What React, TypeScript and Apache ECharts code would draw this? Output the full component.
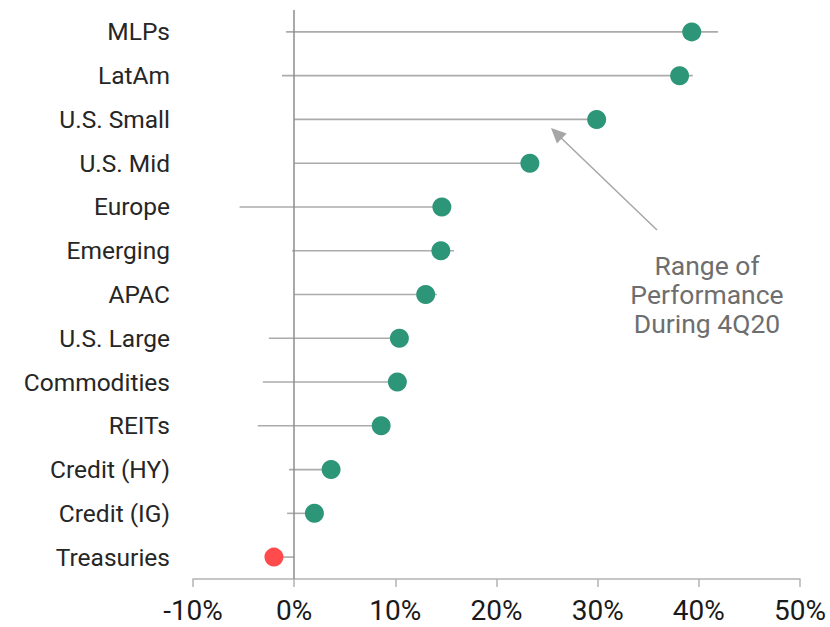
import React, { useEffect, useRef } from "react";
import * as echarts from "echarts";

const categories = [
  "MLPs",
  "LatAm",
  "U.S. Small",
  "U.S. Mid",
  "Europe",
  "Emerging",
  "APAC",
  "U.S. Large",
  "Commodities",
  "REITs",
  "Credit (HY)",
  "Credit (IG)",
  "Treasuries",
];
const lows = [-0.8, -1.2, 0.0, 0.0, -5.4, -0.2, 0.0, -2.5, -3.1, -3.6, -0.5, -0.7, -2.0];
const highs = [41.9, 39.4, 29.9, 23.3, 14.6, 15.8, 14.1, 10.4, 10.2, 8.6, 3.65, 2.0, 0.0];
const finals = [39.3, 38.1, 29.9, 23.3, 14.6, 14.5, 13.0, 10.4, 10.2, 8.6, 3.65, 2.0, -2.0];
const xTicks = { min: -10, max: 50, interval: 10 };
const annotation = "Range of\nPerformance\nDuring 4Q20";

const GREEN = "#2E9678";
const RED = "#FF4B4B";
const FONT = "Roboto";

export default function App() {
  const ref = useRef<HTMLDivElement>(null);
  useEffect(() => {
    if (!ref.current) return;
    const chart = echarts.init(ref.current, undefined, { renderer: "svg" });
    const rangeData = categories.map((c, i) => [i, lows[i], highs[i]]);
    const dotData = categories.map((c, i) => ({
      value: [finals[i], c],
      itemStyle: { color: finals[i] < 0 ? RED : GREEN, opacity: 1 },
    }));
    chart.setOption({
      animation: false,
      backgroundColor: "#ffffff",
      grid: { left: 193, right: 30, top: 10, bottom: 48 },
      xAxis: {
        type: "value",
        min: xTicks.min,
        max: xTicks.max,
        interval: xTicks.interval,
        splitLine: { show: false },
        axisLine: { show: true, onZero: false, lineStyle: { color: "#b3b3b3", width: 1.5 } },
        axisTick: { show: true, length: 8, lineStyle: { color: "#b3b3b3", width: 1.5 } },
        axisLabel: {
          formatter: "{value}%",
          fontFamily: FONT,
          fontSize: 28,
          color: "#1a1a1a",
          margin: 17,
        },
      },
      yAxis: {
        type: "category",
        inverse: true,
        data: categories,
        axisLine: { show: false },
        axisTick: { show: false },
        splitLine: { show: false },
        axisLabel: {
          fontFamily: FONT,
          fontSize: 24.5,
          color: "#262626",
          margin: 23,
        },
      },
      series: [
        {
          type: "custom",
          name: "range",
          silent: true,
          data: rangeData,
          encode: { x: [1, 2], y: 0 },
          renderItem: (params: any, api: any) => {
            const idx = api.value(0);
            const p1 = api.coord([api.value(1), idx]);
            const p2 = api.coord([api.value(2), idx]);
            return {
              type: "line",
              shape: { x1: p1[0], y1: p1[1], x2: p2[0], y2: p2[1] },
              style: { stroke: "#ababab", lineWidth: 1.6 },
            };
          },
          markLine: {
            silent: true,
            symbol: "none",
            label: { show: false },
            lineStyle: { color: "#8c8c8c", width: 1.5, type: "solid" },
            data: [{ xAxis: 0 }],
          },
          z: 2,
        },
        {
          type: "scatter",
          name: "final",
          data: dotData,
          symbol: "circle",
          symbolSize: 19,
          itemStyle: { opacity: 1 },
          z: 3,
        },
      ],
      graphic: [
        {
          type: "line",
          shape: { x1: 657, y1: 230, x2: 558, y2: 135 },
          style: { stroke: "#a6a6a6", lineWidth: 1.5 },
          silent: true,
        },
        {
          type: "polygon",
          shape: {
            points: [
              [551, 128],
              [566.7, 133.4],
              [556.9, 143.4],
            ],
          },
          style: { fill: "#a6a6a6" },
          silent: true,
        },
        {
          type: "text",
          x: 707,
          y: 294,
          style: {
            text: annotation,
            fontFamily: FONT,
            fontSize: 26.5,
            lineHeight: 29,
            fill: "#6e6e6e",
            align: "center",
            verticalAlign: "middle",
          },
          silent: true,
        },
      ],
    });
    return () => chart.dispose();
  }, []);
  return <div ref={ref} style={{ width: 830, height: 627, position: "absolute", left: 0, top: 0 }} />;
}
